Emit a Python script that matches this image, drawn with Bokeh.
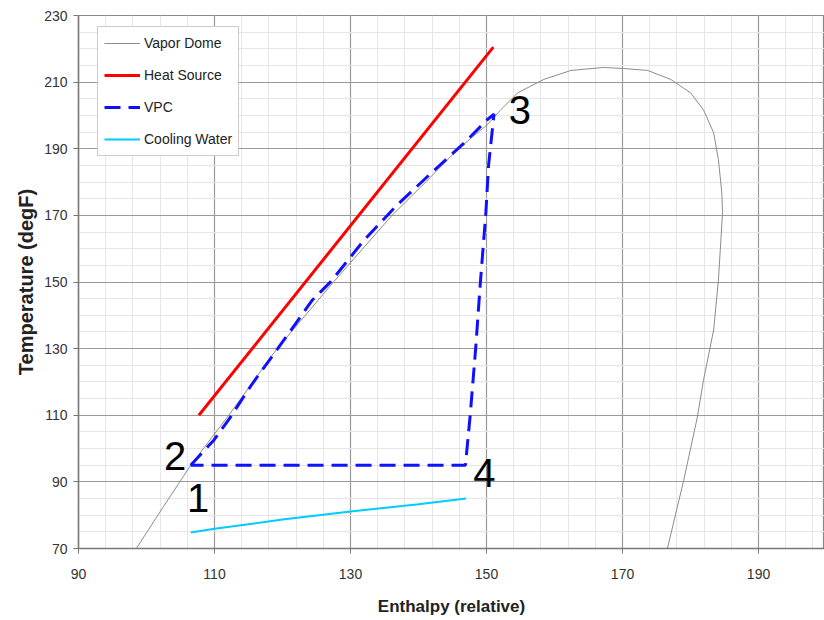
from bokeh.plotting import figure
from bokeh.models import FixedTicker, Range1d, ColumnDataSource
from bokeh.core.properties import value
from bokeh.embed import file_html
from bokeh.resources import INLINE

# ---- data ----
dome_h = [98.5, 102.5, 106.5, 112.1, 119.2, 127.5, 136.1, 141.2, 145.7, 150.1,
          152.1, 154.6, 158.4, 162.4, 167.2, 170.1, 173.7, 177.1, 180.0, 181.9,
          183.4, 184.1, 184.6, 184.7, 184.4, 184.1, 183.4, 181.9, 181.0, 179.0, 176.6]
dome_t = [70.0, 82.6, 95.0, 110.0, 130.0, 150.0, 170.0, 180.3, 189.7, 197.2,
          201.7, 206.8, 210.8, 213.5, 214.4, 214.1, 213.5, 210.8, 206.8, 201.7,
          194.8, 186.7, 176.8, 170.8, 160.5, 150.6, 135.6, 120.5, 109.4, 90.5, 70.0]

heat_h = [107.7, 151.0]
heat_t = [110.0, 220.5]

vpc_h = [106.5, 109.9, 112.2, 115.4, 117.7, 120.0, 124.4, 127.1, 132.0, 136.9,
         141.6, 146.7, 150.1, 151.1, 150.3, 149.9, 149.1, 148.4, 147.6, 146.9, 106.5]
vpc_t = [95.0, 102.5, 109.0, 119.0, 125.5, 132.0, 144.6, 150.1, 162.6, 173.2,
         182.2, 191.7, 198.7, 200.4, 185.0, 170.7, 150.0, 130.0, 110.0, 95.0, 95.0]

cw_h = [106.5, 110.0, 120.0, 130.0, 140.0, 147.0]
cw_t = [74.8, 75.9, 78.7, 81.1, 83.3, 85.0]

state_text = ["1", "2", "3", "4"]
state_h = [107.6, 104.2, 154.9, 149.7]
state_t = [85.2, 97.7, 201.7, 92.7]

x_major = [90, 110, 130, 150, 170, 190]
x_minor = list(range(90, 200, 4))
y_major = [70, 90, 110, 130, 150, 170, 190, 210, 230]
y_minor = list(range(70, 231, 5))

FONT = "Liberation Sans"

p = figure(width=824, height=620, x_range=Range1d(90, 199.7), y_range=Range1d(70, 230),
           output_backend="svg", toolbar_location=None,
           min_border_left=78, min_border_top=15, min_border_bottom=72, min_border_right=0)

p.background_fill_color = "white"
p.border_fill_color = "white"
p.outline_line_color = "#8a8a8a"
p.outline_line_width = 1.2

p.xaxis.ticker = FixedTicker(ticks=x_major, minor_ticks=x_minor)
p.yaxis.ticker = FixedTicker(ticks=y_major, minor_ticks=y_minor)

for ax in (p.xaxis[0], p.yaxis[0]):
    ax.axis_line_color = "#777777"
    ax.axis_line_width = 1.5
    ax.major_tick_line_color = "#777777"
    ax.major_tick_in = 0
    ax.major_tick_out = 5
    ax.minor_tick_in = 0
    ax.minor_tick_out = 0
    ax.major_label_text_font = FONT
    ax.major_label_text_font_size = "14px"
    ax.major_label_text_color = "#333333"
    ax.axis_label_text_font = FONT
    ax.axis_label_text_font_style = "bold"
    ax.axis_label_text_color = "#222222"

p.xaxis.axis_label = "Enthalpy (relative)"
p.xaxis.axis_label_text_font_size = "17px"
p.xaxis.major_label_standoff = 15
p.xaxis.axis_label_standoff = 15

p.yaxis.axis_label = "Temperature (degF)"
p.yaxis.axis_label_text_font_size = "20px"
p.yaxis.major_label_standoff = 6
p.yaxis.axis_label_standoff = 4

for g in (p.xgrid[0], p.ygrid[0]):
    g.grid_line_color = "#9a9a9a"
    g.grid_line_width = 1.2
    g.minor_grid_line_color = "#e6e6e6"
    g.minor_grid_line_width = 1

src_dome = ColumnDataSource(dict(h=dome_h, t=dome_t))
src_heat = ColumnDataSource(dict(h=heat_h, t=heat_t))
src_vpc = ColumnDataSource(dict(h=vpc_h, t=vpc_t))
src_cw = ColumnDataSource(dict(h=cw_h, t=cw_t))
src_lab = ColumnDataSource(dict(h=state_h, t=state_t, s=state_text))

p.line("h", "t", source=src_dome, line_color="#8c8c8c", line_width=1, legend_label="Vapor Dome")
p.line("h", "t", source=src_heat, line_color="#ff0000", line_width=3, legend_label="Heat Source")
p.line("h", "t", source=src_vpc, line_color="#1010ff", line_width=3, line_dash="16 8", legend_label="VPC")
p.line("h", "t", source=src_cw, line_color="#00ccff", line_width=2, legend_label="Cooling Water")

p.text("h", "t", text="s", source=src_lab, text_font=value(FONT), text_font_size="40px",
       text_color="black", text_align="center", text_baseline="middle")

lg = p.legend[0]
lg.location = (19, 392)
lg.label_text_font = FONT
lg.label_text_font_size = "14px"
lg.label_text_color = "#222222"
lg.glyph_width = 36
lg.glyph_height = 20
lg.label_height = 20
lg.label_standoff = 4
lg.spacing = 12
lg.padding = 6
lg.margin = 0
lg.border_line_color = "#999999"
lg.border_line_width = 1
lg.background_fill_color = "white"
lg.background_fill_alpha = 1.0

open("out.html", "w").write(file_html(p, INLINE))
